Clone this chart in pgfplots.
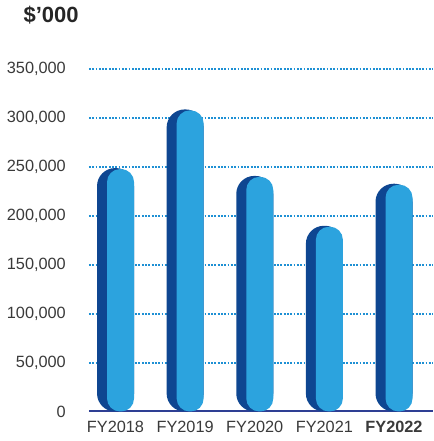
\documentclass[border=0pt]{standalone}
\usepackage{pgfplots}
\pgfplotsset{compat=1.18}
\usepackage{fontspec}
\setmainfont{Liberation Sans}
\definecolor{darkb}{HTML}{0E4691}
\definecolor{lightb}{HTML}{2CA3DE}
\definecolor{gridb}{HTML}{1E90D4}
\definecolor{basel}{HTML}{2E3F94}
\definecolor{txt}{HTML}{3A3A3A}
\begin{document}
\begin{tikzpicture}
\begin{axis}[name=ax, scale only axis, width=344pt, height=361.7pt,
  xmin=-0.381, xmax=4.56, ymin=0, ymax=370000,
  axis lines*=left,
  y axis line style={draw=none},
  x axis line style={basel, line width=2pt},
  major tick length=0pt,
  ytick={0,50000,100000,150000,200000,250000,300000,350000},
  scaled y ticks=false,
  /pgf/number format/assume math mode=true,
  /pgf/number format/fixed,
  /pgf/number format/1000 sep={,},
  yticklabel style={inner sep=0pt, anchor=east, xshift=-23pt},
  xtick={0,1,2,3,4},
  xticklabels={FY2018,FY2019,FY2020,FY2021,\textbf{FY2022}},
  xticklabel style={inner sep=0pt, anchor=north, yshift=-9pt},
  tick label style={font=\fontsize{16.3}{19}\selectfont, text=txt},
  ymajorgrids,
  grid style={gridb, line width=1.8pt, dash pattern=on 1.8pt off 1.5pt},
  clip=false,
]
\addplot[ybar, bar width=37pt, bar shift=0pt, fill=darkb, draw=none, rounded corners=18pt]
  coordinates {(0,249000) (1,309000) (2,241000) (3,190000) (4,233000)};
\addplot[ybar, bar width=27pt, bar shift=5pt, fill=lightb, draw=none, rounded corners=13pt]
  coordinates {(0,248000) (1,308000) (2,240000) (3,189000) (4,232000)};
\node[font=\bfseries\fontsize{22}{26}\selectfont, text=black!85] at (axis description cs:-0.11,1.096) {\$’000};
\end{axis}
\pgfresetboundingbox
\path[use as bounding box] ([xshift=-89pt,yshift=-29.5pt]ax.south west) rectangle ([yshift=49.8pt]ax.north east);
\end{tikzpicture}
\end{document}
